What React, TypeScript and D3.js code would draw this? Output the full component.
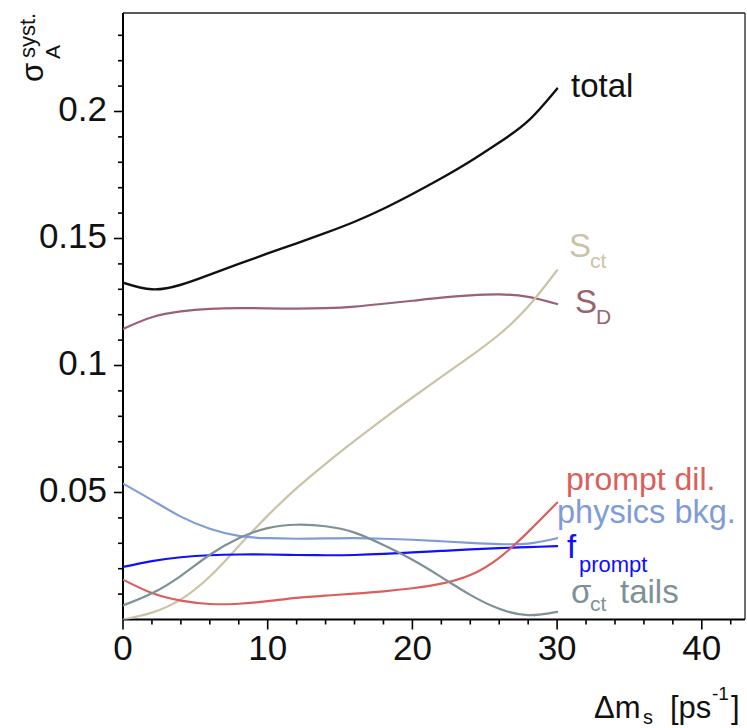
import React from "react";
import * as d3 from "d3";

const xGrid = [0, 2, 4, 6, 8, 10, 12, 14, 16, 18, 20, 22, 24, 26, 28, 30];
const totalVals = [0.1326, 0.13, 0.1318, 0.1358, 0.14, 0.1441, 0.1481, 0.1522, 0.1566, 0.1617, 0.1675, 0.1737, 0.1804, 0.1878, 0.1963, 0.209];
const sdVals = [0.1144, 0.119, 0.1213, 0.1223, 0.1226, 0.1225, 0.1224, 0.1226, 0.1232, 0.1243, 0.1255, 0.1267, 0.1276, 0.128, 0.127, 0.1242];
const sctVals = [0.0, 0.0027, 0.0079, 0.0169, 0.0289, 0.0409, 0.0517, 0.0613, 0.0703, 0.079, 0.0874, 0.0955, 0.1036, 0.1122, 0.1232, 0.1375];
const physVals = [0.0535, 0.047, 0.0405, 0.0357, 0.0329, 0.032, 0.0318, 0.0319, 0.032, 0.0318, 0.0314, 0.0308, 0.0302, 0.0297, 0.0299, 0.032];
const fpromptVals = [0.0207, 0.023, 0.0245, 0.0253, 0.0256, 0.0256, 0.0254, 0.0253, 0.0254, 0.0258, 0.0264, 0.027, 0.0276, 0.0281, 0.0285, 0.0289];
const promptDilVals = [0.0157, 0.0104, 0.0074, 0.0061, 0.0062, 0.0072, 0.0085, 0.0094, 0.0102, 0.0111, 0.0123, 0.0141, 0.0175, 0.0243, 0.0345, 0.046];
const tailsVals = [0.0055, 0.0103, 0.0172, 0.0255, 0.032, 0.036, 0.0373, 0.0367, 0.0342, 0.0293, 0.0235, 0.0167, 0.0097, 0.0042, 0.0017, 0.003];

const yMajorTicks = [0.05, 0.1, 0.15, 0.2];
const yTickLabels = ["0.05", "0.1", "0.15", "0.2"];
const xMajorTicks = [0, 10, 20, 30, 40];
const xTickLabels = ["0", "10", "20", "30", "40"];

const series = [
  { name: "total", vals: totalVals, color: "#111111", width: 2.4 },
  { name: "SD", vals: sdVals, color: "#9a6270", width: 2.2 },
  { name: "Sct", vals: sctVals, color: "#c9c4a6", width: 2.2 },
  { name: "phys", vals: physVals, color: "#7f9cd6", width: 2.2 },
  { name: "fprompt", vals: fpromptVals, color: "#1010ff", width: 2.2 },
  { name: "promptdil", vals: promptDilVals, color: "#da5f5c", width: 2.2 },
  { name: "tails", vals: tailsVals, color: "#7e9196", width: 2.2 },
];

const L = 123, R = 745, T = 13, B = 619.5;
const FONT = "Liberation Sans, Arial, Helvetica, sans-serif";

export default function App() {
  const x = d3.scaleLinear().domain([0, 43]).range([L, L + 43 * 14.47]);
  const y = d3.scaleLinear().domain([0, 0.05]).range([B, B - 127]);
  const line = d3
    .line<number>()
    .x((_, i) => x(xGrid[i]))
    .y((d) => y(d))
    .curve(d3.curveNatural);

  const yMinor = d3.range(1, 24).map((i) => i / 100).filter((v) => !yMajorTicks.some((m) => Math.abs(m - v) < 1e-9));
  const xMinor = d3.range(2, 43, 2).filter((v) => v % 10 !== 0);

  return (
    <svg width={747} height={728} style={{ position: "absolute", left: 0, top: 0, background: "#fff" }} fontFamily={FONT}>
      <rect x={0} y={0} width={747} height={728} fill="#fff" />
      <defs>
        <clipPath id="plotclip">
          <rect x={L} y={T} width={R - L} height={B - T} />
        </clipPath>
      </defs>
      {/* frame */}
      <line x1={L} y1={T} x2={R} y2={T} stroke="#222" strokeWidth={1.3} />
      <line x1={R} y1={T} x2={R} y2={B} stroke="#222" strokeWidth={1.3} />
      <line x1={L} y1={T} x2={L} y2={B} stroke="#000" strokeWidth={2} />
      <line x1={L} y1={B} x2={R} y2={B} stroke="#000" strokeWidth={2} />

      {/* y ticks */}
      {yMajorTicks.map((v, i) => (
        <g key={"ym" + i}>
          <line x1={L - 9} x2={L} y1={y(v)} y2={y(v)} stroke="#000" strokeWidth={1.6} />
          <text x={107} y={y(v) + 9.5} fontSize={35} textAnchor="end" fill="#111">
            {yTickLabels[i]}
          </text>
        </g>
      ))}
      {yMinor.map((v, i) => (
        <line key={"yn" + i} x1={L - 5} x2={L} y1={y(v)} y2={y(v)} stroke="#000" strokeWidth={1.6} />
      ))}

      {/* x ticks */}
      {xMajorTicks.map((v, i) => (
        <g key={"xm" + i}>
          <line x1={x(v)} x2={x(v)} y1={B} y2={B + 10} stroke="#000" strokeWidth={1.6} />
          <text x={x(v)} y={660} fontSize={35} textAnchor="middle" fill="#111">
            {xTickLabels[i]}
          </text>
        </g>
      ))}
      {xMinor.map((v, i) => (
        <line key={"xn" + i} x1={x(v)} x2={x(v)} y1={B} y2={B + 5} stroke="#000" strokeWidth={1.6} />
      ))}

      {/* curves */}
      <g clipPath="url(#plotclip)">
        {series.map((s) => (
          <path key={s.name} d={line(s.vals) || ""} fill="none" stroke={s.color} strokeWidth={s.width} strokeLinejoin="round" strokeLinecap="round" />
        ))}
      </g>

      {/* curve labels */}
      <text x={571} y={97} fontSize={33} fill="#111">total</text>
      <text x={569} y={257} fontSize={33} fill="#c9c4a6">S</text>
      <text x={590} y={268} fontSize={21} fill="#c9c4a6">ct</text>
      <text x={575} y={313} fontSize={33} fill="#9a6270">S</text>
      <text x={596} y={324} fontSize={21} fill="#9a6270">D</text>
      <text x={566} y={490} fontSize={32} fill="#da5f5c">prompt dil.</text>
      <text x={557} y={523} fontSize={32.5} fill="#7f9cd6">physics bkg.</text>
      <text x={567} y={558} fontSize={33} fill="#1010ff">f</text>
      <text x={579} y={572} fontSize={22} fill="#1010ff">prompt</text>
      <text x={571} y={603} fontSize={33} fill="#7e9196">σ</text>
      <text x={590} y={611} fontSize={21} fill="#7e9196">ct</text>
      <text x={620} y={603} fontSize={33} fill="#7e9196">tails</text>

      {/* x axis title */}
      <text x={594} y={718} fontSize={31} fill="#111">
        Δm
      </text>
      <text x={643} y={724} fontSize={20} fill="#111">s</text>
      <text x={670} y={718} fontSize={31} fill="#111">[ps</text>
      <text x={712} y={700} fontSize={19} fill="#111">-1</text>
      <text x={731} y={718} fontSize={31} fill="#111">]</text>

      {/* y axis title */}
      <g transform="translate(43,82) rotate(-90)">
        <text x={0} y={0} fontSize={31} fill="#111">σ</text>
        <text x={23} y={17} fontSize={21} fill="#111">A</text>
        <text x={24} y={-8} fontSize={22} fill="#111">syst.</text>
      </g>
    </svg>
  );
}
